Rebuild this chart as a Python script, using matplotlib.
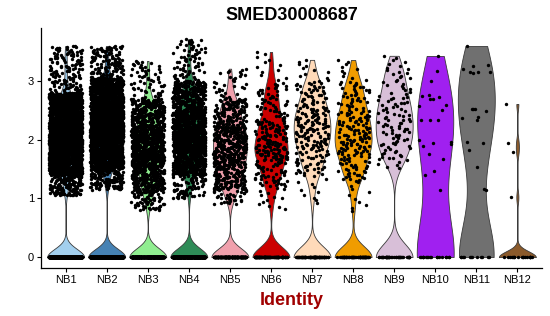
import numpy as np
import matplotlib
matplotlib.use('Agg')
import matplotlib.pyplot as plt

plt.rcParams['font.family'] = ['Liberation Sans', 'DejaVu Sans']

# cluster names and fill colours
groups = ['NB1', 'NB2', 'NB3', 'NB4', 'NB5', 'NB6', 'NB7', 'NB8', 'NB9', 'NB10', 'NB11', 'NB12']
colors = ['#a2cfee', '#4682b4', '#90ee90', '#2e8b57', '#f0a0ac', '#cc0000',
          '#ffdab9', '#f09c00', '#d8bfd8', '#a020f0', '#707070', '#8b5a2b']

# number of cells with zero expression
n_zero = [1000, 920, 440, 540, 190, 90, 70, 60, 40, 18, 12, 18]
# number of expressing cells in the big clusters (too many to read one by one)
n_expr = [2800, 2600, 1200, 1500, 650, 260, 220, 200, 110]

# expression quantiles of the expressing cells
q_levels = [0.0, 0.05, 0.25, 0.5, 0.75, 0.95, 1.0]
q_expr = [
    [1.05, 1.40, 1.80, 2.05, 2.40, 2.80, 3.60],
    [1.15, 1.50, 1.90, 2.25, 2.60, 3.05, 3.60],
    [0.80, 1.10, 1.55, 1.90, 2.25, 2.70, 3.35],
    [1.00, 1.40, 1.80, 2.10, 2.50, 3.00, 3.72],
    [0.90, 1.15, 1.55, 1.90, 2.25, 2.70, 3.22],
    [0.80, 1.20, 1.65, 1.95, 2.35, 2.95, 3.52],
    [0.90, 1.40, 1.85, 2.20, 2.55, 3.00, 3.38],
    [0.75, 1.30, 1.75, 2.10, 2.50, 3.00, 3.38],
    [1.50, 1.65, 2.00, 2.35, 2.75, 3.25, 3.45],
]

# the small clusters: individual expressing cells
nb10_expr = [1.15, 1.40, 1.46, 1.68, 1.76, 1.90, 1.92, 1.94, 1.97, 2.00, 2.33, 2.33,
             2.33, 2.50, 2.58, 2.60, 2.70, 2.70, 2.73, 2.74, 2.77, 3.01, 3.17, 3.43]
nb11_expr = [1.14, 1.16, 1.53, 1.83, 1.94, 1.97, 2.33, 2.37, 2.39, 2.49, 2.52, 2.52,
             2.53, 3.14, 3.15, 3.16, 3.16, 3.20, 3.25, 3.27, 3.60]
nb12_expr = [1.02, 1.80, 1.95, 2.61]

# kde bandwidth per cluster (data units)
bw = [0.14, 0.14, 0.15, 0.15, 0.15, 0.17, 0.18, 0.18, 0.22, 0.7, 0.6, 0.10]

fig = plt.figure(figsize=(5.5, 3.16), dpi=100)
ax = fig.add_axes([41 / 550, 48 / 316, 501 / 550, 240 / 316])

rng = np.random.default_rng(3)
small = [nb10_expr, nb11_expr, nb12_expr]
ymax = max(max(q[-1] for q in q_expr), max(max(s) for s in small))

for i, g in enumerate(groups):
    pos = i + 1
    if i < len(q_expr):
        p = (np.arange(n_expr[i]) + 0.5) / n_expr[i]
        expr = np.interp(p, q_levels, q_expr[i])
    else:
        expr = np.array(small[i - len(q_expr)])
    vals = np.concatenate([np.zeros(n_zero[i]), expr])
    factor = bw[i] / np.std(vals, ddof=1)
    vp = ax.violinplot([vals], positions=[pos], widths=0.9, bw_method=factor,
                       showextrema=False, points=300)
    for body in vp['bodies']:
        body.set_facecolor(colors[i])
        body.set_edgecolor('#3a3a3a')
        body.set_linewidth(0.6)
        body.set_alpha(1)
        body.set_zorder(1)
    jit = rng.uniform(-0.4, 0.4, len(vals))
    ax.scatter(pos + jit, vals, s=6, c='black', linewidths=0, zorder=2)

ax.set_xlim(0.4, len(groups) + 0.6)
ax.set_ylim(-0.05 * ymax, ymax * 1.05)
ax.set_xticks(range(1, len(groups) + 1))
ax.set_xticklabels(groups)
ax.set_yticks([0, 1, 2, 3])
ax.tick_params(labelsize=8, length=3, width=0.8, colors='black', pad=2)
for s in ['top', 'right']:
    ax.spines[s].set_visible(False)
for s in ['left', 'bottom']:
    ax.spines[s].set_linewidth(0.9)

ax.set_xlabel('Identity', color='#a00000', fontsize=13, fontweight='bold', labelpad=5)
ax.set_title('SMED30008687', fontsize=13, fontweight='bold', pad=6)

fig.savefig('out.png', dpi=100)
